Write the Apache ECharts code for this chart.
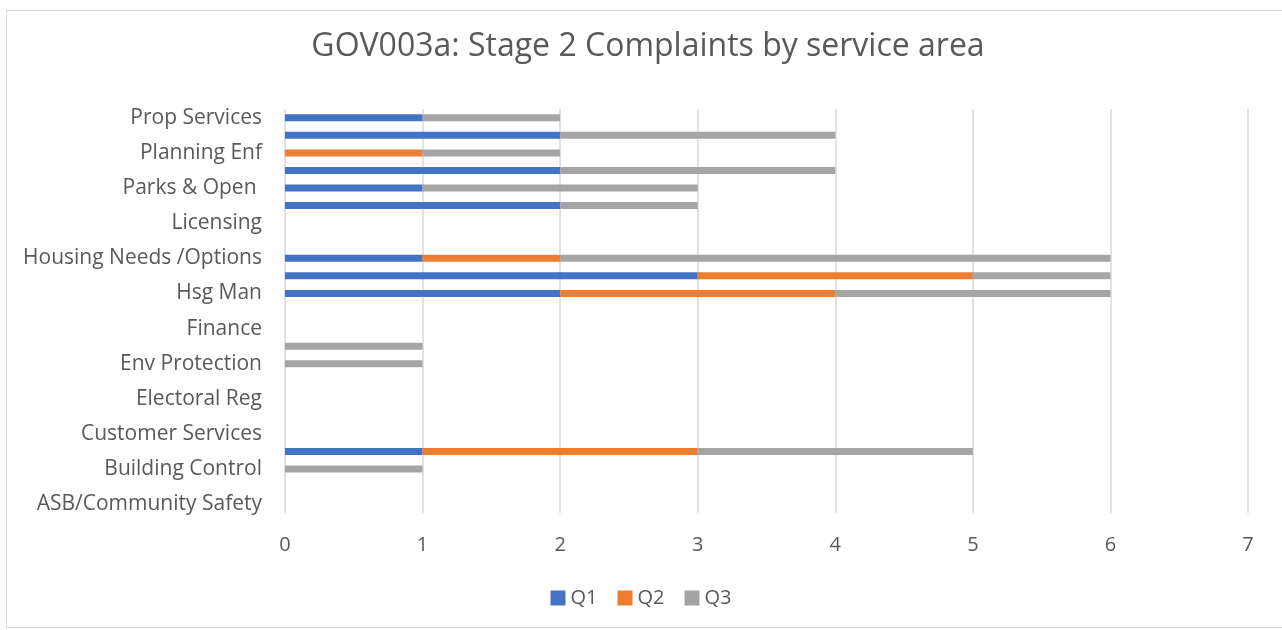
<!DOCTYPE html>
<html>
<head>
<meta charset="utf-8">
<script src="https://cdn.jsdelivr.net/npm/echarts@6/dist/echarts.min.js"></script>
<style>
html,body{margin:0;padding:0;background:#fff;}
#frame{position:absolute;left:6px;top:10px;width:1290px;height:618px;border:1px solid #d9d9d9;box-sizing:border-box;}
#chart{position:absolute;left:0;top:0;width:1282px;height:630px;}
</style>
</head>
<body>
<div id="frame"></div>
<div id="chart"></div>
<script>
const categories = [
  'ASB/Community Safety','Benefits','Building Control','Council Tax','Customer Services',
  'Democratic Services','Electoral Reg','Env Health','Env Protection','Estates','Finance',
  'Homelessness','Hsg Man','Housing Allocations','Housing Needs /Options','Legal','Licensing',
  'Neighbourhoods','Parks & Open ','Planning Dev','Planning Enf','Planning Policy','Prop Services'
];
const q1 = [0,0,0,1,0,0,0,0,0,0,0,0,2,3,1,0,0,2,1,2,0,2,1];
const q2 = [0,0,0,2,0,0,0,0,0,0,0,0,2,2,1,0,0,0,0,0,1,0,0];
const q3 = [0,0,1,2,0,0,0,0,1,1,0,0,2,1,4,0,0,1,2,2,1,2,1];
const xTicks = [0,1,2,3,4,5,6,7];

const font = 'Open Sans';
const chart = echarts.init(document.getElementById('chart'));
const mk = (name, data, color) => ({
  name, type:'bar', stack:'total', data, barWidth:7,
  itemStyle:{color}, emphasis:{disabled:true}
});
chart.setOption({
  animation:false,
  title:{text:'GOV003a: Stage 2 Complaints by service area', left:643, top:26, textAlign:'center',
    textStyle:{fontFamily:font, fontWeight:'normal', fontSize:32, color:'#595959'}},
  legend:{bottom:17, left:650, itemWidth:15, itemHeight:15, itemGap:20,
    icon:'rect', textStyle:{fontFamily:font, fontSize:20, color:'#595959'}},
  grid:{left:285, right:34, top:109, bottom:117, containLabel:false},
  xAxis:{type:'value', min:xTicks[0], max:xTicks[xTicks.length-1], interval:1,
    axisLine:{show:false}, axisTick:{show:false},
    splitLine:{lineStyle:{color:'#d9d9d9', width:1.5}},
    axisLabel:{fontFamily:font, fontSize:20, color:'#595959', margin:22}},
  yAxis:{type:'category', data:categories,
    axisLine:{show:false}, axisTick:{show:false},
    axisLabel:{interval:1, fontFamily:font, fontSize:21, color:'#595959', margin:23, padding:[3,0,0,0]}},
  series:[mk('Q1',q1,'#4472c4'), mk('Q2',q2,'#ed7d31'), mk('Q3',q3,'#a5a5a5')]
});
// center legend on the reference's legend position
chart.setOption({legend:{left:'center'}});
</script>
</body>
</html>
